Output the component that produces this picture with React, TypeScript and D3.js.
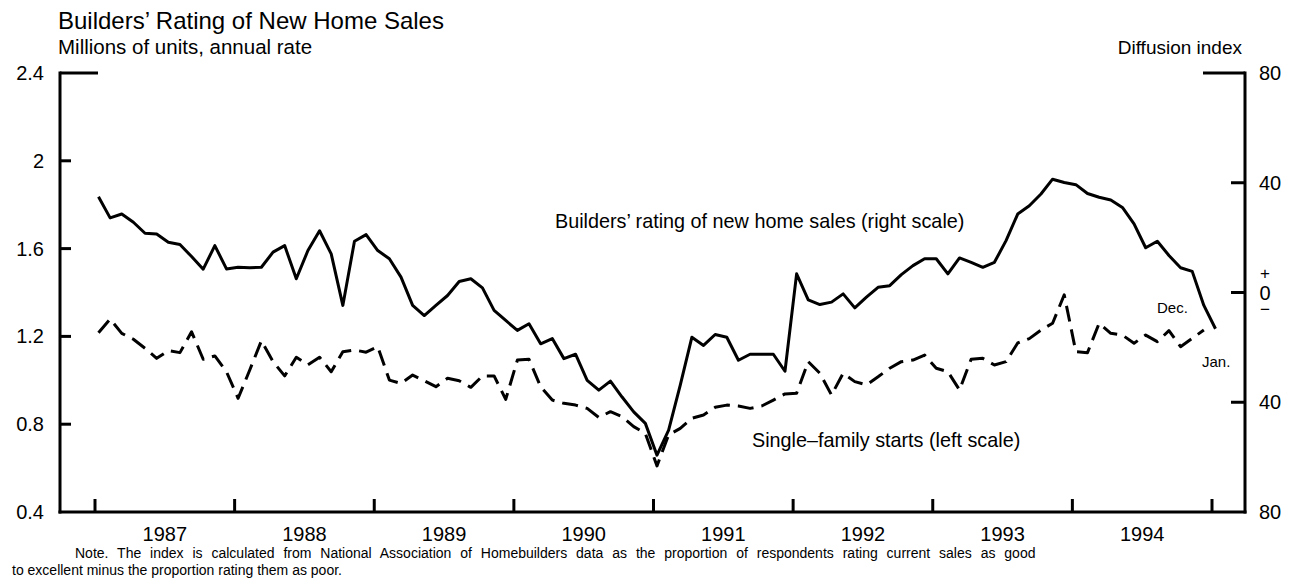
import React from 'react';
import * as d3 from 'd3';

// Monthly data, Jan 1987 onward
const years = ['1987', '1988', '1989', '1990', '1991', '1992', '1993', '1994'];

// Builders' rating of new home sales (diffusion index, right scale), Jan 1987 – Jan 1995
const ratingValues = [
  34.9, 27.2, 28.6, 25.6, 21.6, 21.3, 18.3, 17.5, 13.1, 8.5, 17.1, 8.6,
  9.2, 9.0, 9.2, 14.7, 17.1, 5.0, 15.3, 22.5, 14.1, -4.7, 18.7, 21.1,
  15.3, 12.3, 5.6, -4.7, -8.4, -4.7, -1.1, 4.0, 5.0, 1.7, -6.5, -10.2,
  -13.8, -11.4, -18.7, -16.8, -24.1, -22.5, -32, -35.6, -32.3, -38.1, -43.5, -47.7,
  -59.3, -50.2, -33.8, -16.3, -19.3, -15.3, -16.3, -24.7, -22.5, -22.5, -22.5, -28.7,
  6.8, -2.7, -4.4, -3.5, -0.5, -5.6, -1.7, 1.9, 2.5, 6.5, 9.8, 12.3,
  12.3, 6.8, 12.6, 11, 9.2, 11, 18.9, 28.6, 31.6, 35.9, 41.3, 40.1,
  39.3, 36.1, 34.7, 33.7, 31, 25, 16.3, 18.7, 13.5, 9, 7.7, -4.7,
  -13.2,
];

// Single-family starts (millions, annual rate, left scale), Jan 1987 – Dec 1994
const startsValues = [
  1.217, 1.279, 1.214, 1.187, 1.146, 1.10, 1.135, 1.126, 1.221, 1.096, 1.111, 1.039,
  0.918, 1.047, 1.18, 1.085, 1.02, 1.105, 1.07, 1.105, 1.039, 1.13, 1.138, 1.128,
  1.153, 1.001, 0.986, 1.024, 0.998, 0.971, 1.009, 0.998, 0.968, 1.02, 1.02, 0.913,
  1.092, 1.096, 0.971, 0.91, 0.895, 0.887, 0.872, 0.831, 0.857, 0.834, 0.789, 0.758,
  0.61, 0.751, 0.781, 0.827, 0.842, 0.877, 0.887, 0.883, 0.872, 0.883, 0.91, 0.938,
  0.941, 1.085, 1.032, 0.933, 1.032, 0.994, 0.979, 1.016, 1.055, 1.085, 1.092, 1.115,
  1.055, 1.039, 0.956, 1.096, 1.10, 1.07, 1.085, 1.17, 1.19, 1.229, 1.26, 1.389,
  1.13, 1.126, 1.26, 1.214, 1.206, 1.169, 1.206, 1.176, 1.226, 1.153, 1.191, 1.229,
];

const leftTicks = [0.4, 0.8, 1.2, 1.6, 2, 2.4];
const leftTickLabels = ['0.4', '0.8', '1.2', '1.6', '2', '2.4'];
const rightTicks = [80, 40, 0, -40, -80];

const FONT = '"Liberation Sans", Arial, Helvetica, sans-serif';

export default function App() {
  const W = 1301;
  const H = 585;
  const left = 60;
  const right = 1245;
  const top = 73;
  const bottom = 512;

  const x = d3.scaleLinear().domain([0, 96]).range([95, 1212]);
  const yL = d3.scaleLinear().domain([0.4, 2.4]).range([bottom, top]);
  const yR = d3.scaleLinear().domain([-80, 80]).range([bottom, top]);
  const off = 0.3;

  const ratingLine = d3
    .line<number>()
    .x((_, i) => x(i + off))
    .y((d) => yR(d));
  const startsLine = d3
    .line<number>()
    .x((_, i) => x(i + off))
    .y((d) => yL(d));

  const yearTicks = d3.range(0, 97, 12);

  return (
    <svg
      width={W}
      height={H}
      style={{ position: 'absolute', left: 0, top: 0, background: '#fff' }}
      fontFamily={FONT}
    >
      <rect x={0} y={0} width={W} height={H} fill="#fff" />
      {/* titles */}
      <text x={58} y={29} fontSize={24} fill="#000">
        Builders’ Rating of New Home Sales
      </text>
      <text x={58} y={54} fontSize={20.5} fill="#000">
        Millions of units, annual rate
      </text>
      <text x={1242} y={54} fontSize={19} fill="#000" textAnchor="end">
        Diffusion index
      </text>

      {/* axes */}
      <g stroke="#000" strokeWidth={3} fill="none">
        <line x1={left} y1={top - 1.5} x2={left} y2={bottom + 1.5} />
        <line x1={right} y1={top - 1.5} x2={right} y2={bottom + 1.5} />
        <line x1={left - 1.5} y1={bottom} x2={right + 1.5} y2={bottom} />
        {leftTicks.map((t) =>
          t === 0.4 ? null : (
            <line key={'lt' + t} x1={left} x2={t === 2.4 ? left + 38 : left + 11} y1={yL(t)} y2={yL(t)} />
          )
        )}
        {rightTicks.map((t) =>
          t === -80 ? null : (
            <line key={'rt' + t} x1={right} x2={t === 80 ? right - 42 : right - 14} y1={yR(t)} y2={yR(t)} />
          )
        )}
        {yearTicks.map((m) => (
          <line key={'xt' + m} x1={x(m)} x2={x(m)} y1={bottom} y2={bottom - 13} />
        ))}
      </g>

      {/* left tick labels */}
      {leftTicks.map((t, i) => (
        <text key={'ll' + t} x={44} y={yL(t) + 7} fontSize={20} textAnchor="end" fill="#000">
          {leftTickLabels[i]}
        </text>
      ))}
      {/* right tick labels */}
      {rightTicks.map((t) =>
        t === 0 ? (
          <text key="r0" fill="#000" fontSize={20} textAnchor="middle">
            <tspan x={1265} y={yR(0) - 14} fontSize={17}>+</tspan>
            <tspan x={1265} y={yR(0) + 7}>0</tspan>
            <tspan x={1265} y={yR(0) + 22} fontSize={17}>−</tspan>
          </text>
        ) : (
          <text key={'rl' + t} x={1259} y={yR(t) + 7} fontSize={20} fill="#000">
            {Math.abs(t)}
          </text>
        )
      )}
      {/* year labels */}
      {years.map((yr, i) => (
        <text key={yr} x={x(i * 12 + 6)} y={541} fontSize={20} textAnchor="middle" fill="#000">
          {yr}
        </text>
      ))}

      {/* series */}
      <path d={ratingLine(ratingValues) || ''} fill="none" stroke="#000" strokeWidth={3} strokeLinejoin="round" />
      <path
        d={startsLine(startsValues) || ''}
        fill="none"
        stroke="#000"
        strokeWidth={3}
        strokeDasharray="16 8"
        strokeLinejoin="round"
      />

      {/* annotations */}
      <text x={555} y={228} fontSize={19.8} fill="#000">
        Builders’ rating of new home sales (right scale)
      </text>
      <text x={752} y={447} fontSize={19.8} fill="#000">
        Single–family starts (left scale)
      </text>
      <text x={1157} y={313} fontSize={15} fill="#000">Dec.</text>
      <text x={1202} y={367} fontSize={15} fill="#000">Jan.</text>

      {/* note (justified first line) */}
      <text x={75} y={558} fontSize={14} wordSpacing={5} fill="#000">
        Note. The index is calculated from National Association of Homebuilders data as the proportion of respondents rating current sales as good
      </text>
      <text x={12} y={575} fontSize={14} fill="#000">
        to excellent minus the proportion rating them as poor.
      </text>
    </svg>
  );
}
